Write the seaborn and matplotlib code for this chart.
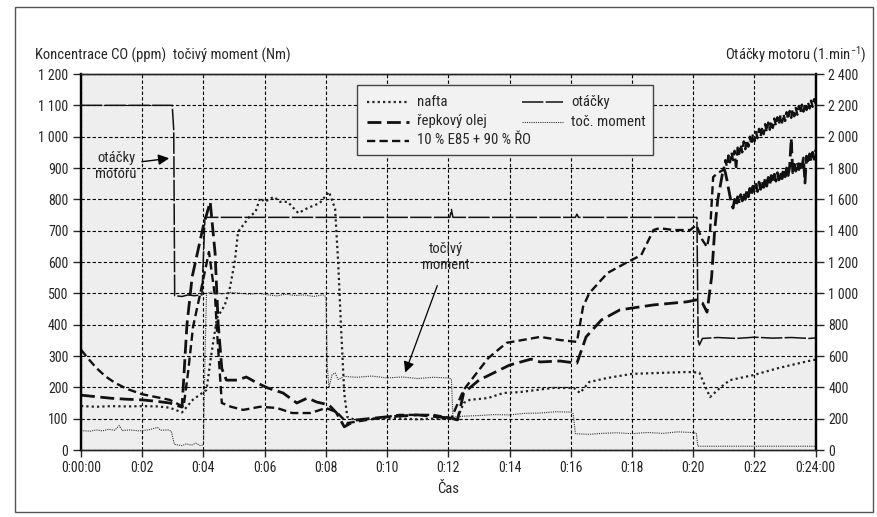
import matplotlib
matplotlib.use("Agg")
import matplotlib.pyplot as plt
from matplotlib import font_manager
from matplotlib.patches import Rectangle
from matplotlib.lines import Line2D
import seaborn as sns
import pandas as pd

# ---- data (time in minutes) ----
nafta_t = [0, 0.5, 1.0, 1.5, 2.0, 2.5, 2.9, 3.3, 3.65, 4.0, 4.1, 4.25, 4.44, 4.7, 4.87,
           5.03, 5.13, 5.5, 5.7, 5.85, 6.0, 6.3, 6.5, 6.75, 7.1, 7.4, 7.8, 8.1, 8.3, 8.4,
           8.5, 8.6, 8.7, 9.0, 9.5, 10.0, 10.5, 11.0, 11.5, 12.0, 12.3, 12.5, 12.7, 13.3,
           13.8, 14.35, 15.4, 16.1, 16.3, 16.6, 17.2, 18.0, 18.9, 19.8, 20.2, 20.4, 20.55,
           20.9, 21.2, 21.96, 22.8, 23.9, 24.0]
nafta_v = [140, 138, 140, 139, 140, 139, 135, 120, 160, 185, 192, 300, 421, 463, 520,
           606, 696, 744, 760, 804, 792, 808, 792, 792, 756, 772, 788, 824, 770, 600,
           380, 180, 105, 95, 100, 102, 100, 98, 100, 100, 102, 150, 160, 166,
           182, 185, 198, 198, 182, 217, 230, 243, 246, 249, 247, 201, 169,
           201, 223, 239, 262, 287, 288]

repka_t = [0, 0.5, 1.0, 1.5, 2.0, 2.5, 2.9, 3.2, 3.3, 3.46, 3.63, 3.99, 4.22, 4.38, 4.48,
           4.6, 4.75, 5.1, 5.4, 5.75, 6.1, 6.6, 7.05, 7.4, 7.7, 8.1, 8.35, 8.6, 9.0, 9.9,
           11.0, 12.05, 12.3, 12.5, 13.0, 14.0, 14.7, 15.0, 15.65, 16.2, 16.5, 17.0, 17.6,
           18.0, 18.7, 19.8, 20.1, 20.3, 20.45, 20.6, 20.7, 20.8, 20.95,
           21.00, 21.05, 21.10, 21.15, 21.20, 21.25, 21.30, 21.35, 21.40, 21.45,
           21.50, 21.55, 21.60, 21.65, 21.70, 21.75, 21.80, 21.85, 21.90, 21.95,
           22.00, 22.05, 22.10, 22.15, 22.20, 22.25, 22.30, 22.35, 22.40, 22.45,
           22.50, 22.55, 22.60, 22.65, 22.70, 22.75, 22.80, 22.85, 22.90, 22.95,
           23.00, 23.05, 23.10, 23.15, 23.20, 23.25, 23.30, 23.35, 23.40, 23.45,
           23.50, 23.55, 23.60, 23.65, 23.70, 23.75, 23.80, 23.85, 23.90, 23.95, 24.00]
repka_v = [175, 170, 165, 162, 160, 155, 150, 140, 137, 399, 552, 712, 792, 629, 405,
           260, 223, 223, 233, 214, 198, 182, 150, 166, 153, 144, 118, 74, 96, 105,
           112, 102, 96, 182, 223, 271, 290, 281, 284, 277, 361, 415, 447,
           453, 463, 473, 479, 469, 440, 552, 702, 798, 880,
           900, 885, 862, 835, 810, 785, 772, 800, 780, 808,
           788, 815, 795, 822, 800, 828, 808, 835, 812, 842,
           820, 848, 825, 855, 832, 860, 838, 866, 842, 870,
           848, 876, 852, 880, 858, 885, 862, 890, 866, 895,
           872, 900, 876, 905, 995, 885, 912, 890, 918, 895,
           925, 902, 932, 852, 938, 912, 945, 920, 950, 928, 958]

e85_t = [0, 0.25, 0.5, 0.8, 1.1, 1.5, 2.0, 2.5, 2.9, 3.2, 3.35, 3.5, 3.66, 3.99, 4.18,
         4.38, 4.44, 4.6, 4.9, 5.3, 5.85, 6.4, 6.9, 7.5, 8.0, 8.35, 8.7, 9.35, 10.4, 11.5,
         12.1, 12.5, 13.3, 13.9, 15.0, 15.65, 16.2, 16.4, 16.6, 17.2, 17.8, 18.3, 18.7,
         18.9, 19.35, 19.9, 20.1, 20.3, 20.45, 20.55, 20.65, 20.8,
         21.00, 21.05, 21.10, 21.15, 21.20, 21.25, 21.30, 21.35, 21.40, 21.45,
         21.50, 21.55, 21.60, 21.65, 21.70, 21.75, 21.80, 21.85, 21.90, 21.95,
         22.00, 22.05, 22.10, 22.15, 22.20, 22.25, 22.30, 22.35, 22.40, 22.45,
         22.50, 22.55, 22.60, 22.65, 22.70, 22.75, 22.80, 22.85, 22.90, 22.95,
         23.00, 23.05, 23.10, 23.15, 23.20, 23.25, 23.30, 23.35, 23.40, 23.45,
         23.50, 23.55, 23.60, 23.65, 23.70, 23.75, 23.80, 23.85, 23.90, 23.95, 24.00]
e85_v = [320, 290, 262, 235, 215, 195, 178, 168, 160, 145, 137, 250, 393, 543, 632,
         488, 383, 150, 138, 128, 138, 134, 118, 118, 134, 121, 86, 96, 112, 112,
         102, 192, 293, 342, 361, 351, 345, 457, 500, 565, 597, 622, 702,
         708, 702, 702, 718, 670, 648, 700, 871, 884,
         895, 925, 905, 940, 918, 950, 925, 955, 895, 965,
         945, 975, 950, 985, 960, 990, 968, 1000, 975, 1008,
         985, 1015, 995, 1025, 1000, 1030, 1008, 1040, 1015, 1045,
         1022, 1050, 1028, 1058, 1035, 1062, 1040, 1068, 1045, 1072,
         1050, 1078, 1055, 1082, 1060, 1088, 1065, 1092, 1070, 1098,
         1075, 1102, 1080, 1105, 1085, 1110, 1090, 1115, 1095, 1120, 1105]

otacky_t = [0, 2.98, 3.03, 3.06, 3.3, 3.5, 3.7, 3.95, 4.05, 12.05, 12.1, 12.15,
            16.15, 16.2, 16.25, 20.12, 20.16, 20.2, 20.3, 20.8, 21.4, 22.0, 22.6, 23.2,
            23.8, 24.0]
otacky_v = [2200, 2200, 2040, 985, 980, 990, 985, 990, 1485, 1485, 1535, 1485,
            1485, 1505, 1485, 1485, 700, 670, 712, 718, 712, 720, 714, 718,
            712, 716]

moment_t = [0, 0.3, 0.5, 0.7, 0.9, 1.1, 1.25, 1.35, 1.6, 1.9, 2.2, 2.5, 2.6, 2.85, 2.95,
            3.05, 3.3, 3.45, 3.6, 3.75, 3.9, 4.0, 4.05, 4.1, 4.3, 4.6, 4.9, 5.2, 5.5, 5.8,
            6.1, 6.4, 6.7, 7.0, 7.3, 7.6, 7.9, 8.0, 8.05, 8.1, 8.2, 8.3, 8.4, 8.6, 9.0,
            9.5, 10.0, 10.5, 11.0, 11.5, 12.0, 12.1, 12.15, 12.5, 13.0, 13.5, 14.0, 14.5,
            15.0, 15.5, 16.0, 16.08, 16.15, 16.6, 17.0, 17.5, 18.0, 18.5, 19.0, 19.5,
            19.9, 20.1, 20.15, 24.0]
moment_v = [62, 60, 64, 61, 66, 63, 78, 62, 64, 61, 64, 72, 63, 64, 60,
            18, 14, 20, 15, 22, 14, 16, 300, 500, 505, 498, 503, 500, 497, 500,
            495, 492, 497, 493, 495, 490, 495, 490, 260, 200, 240, 246, 225, 235, 232,
            236, 230, 233, 228, 232, 230, 226, 105, 108, 110, 113, 112, 117,
            118, 122, 121, 115, 52, 50, 53, 55, 52, 56, 53, 58,
            56, 54, 12, 12]

x_ticks = list(range(0, 25, 2))
x_labels = ["0:00:00", "0:02", "0:04", "0:06", "0:08", "0:10", "0:12", "0:14",
            "0:16", "0:18", "0:20", "0:22", "0:24:00"]
left_ticks = list(range(0, 1201, 100))
right_ticks = list(range(0, 2401, 200))

legend_labels = ["nafta", "řepkový olej", "10 % E85 + 90 % ŘO", "otáčky", "toč. moment"]


def fmt(v):
    return f"{v:,}".replace(",", " ")


# ---- style ----
sns.set_style("ticks")
names = {f.name for f in font_manager.fontManager.ttflist}
fam = "Liberation Sans"
for cand in ("Liberation Sans Narrow", "Roboto Condensed", "Liberation Sans"):
    if cand in names:
        fam = cand
        break
plt.rcParams["font.family"] = [fam, "DejaVu Sans"]
plt.rcParams["mathtext.fontset"] = "custom"
plt.rcParams["mathtext.rm"] = fam
plt.rcParams["mathtext.it"] = fam
plt.rcParams["font.size"] = 10

W, H = 878, 517
fig = plt.figure(figsize=(W / 100, H / 100), dpi=100)
fig.patch.set_facecolor("white")
AX_L, AX_R, AX_T, AX_B = 81, 815.7, 74, 450
ax = fig.add_axes([AX_L / W, 1 - AX_B / H, (AX_R - AX_L) / W, (AX_B - AX_T) / H])
ax.set_facecolor("#edeeed")
ax2 = ax.twinx()


def axf(px, py):
    """pixel position -> axes fraction"""
    return (px - AX_L) / (AX_R - AX_L), (AX_B - py) / (AX_B - AX_T)


styles = {
    "nafta": dict(color="#222222", lw=1.6, linestyle=(0, (1, 1.4))),
    "repka": dict(color="#111111", lw=2.0, linestyle=(0, (5, 2))),
    "e85": dict(color="#111111", lw=1.7, linestyle=(0, (3.5, 1.8))),
    "otacky": dict(color="#111111", lw=1.1, linestyle=(0, (14, 1.5))),
    "moment": dict(color="#333333", lw=0.8, linestyle=(0, (1, 1))),
}

series = [
    (ax, nafta_t, nafta_v, "nafta"),
    (ax, repka_t, repka_v, "repka"),
    (ax, e85_t, e85_v, "e85"),
    (ax, moment_t, moment_v, "moment"),
    (ax2, otacky_t, otacky_v, "otacky"),
]
for a, t, v, key in series:
    df = pd.DataFrame({"t": t, "v": v})
    sns.lineplot(data=df, x="t", y="v", ax=a, sort=False, estimator=None, **styles[key])

ax.set_xlim(0, 24)
ax.set_ylim(0, 1200)
ax2.set_ylim(0, 2400)
ax.set_xticks(x_ticks)
ax.set_xticklabels(x_labels)
ax.set_yticks(left_ticks)
ax.set_yticklabels([fmt(v) for v in left_ticks])
ax2.set_yticks(right_ticks)
ax2.set_yticklabels([fmt(v) for v in right_ticks])
ax.set_xlabel("Čas", fontsize=10.5, labelpad=5)
ax.set_ylabel("")
ax2.set_ylabel("")

ax.grid(True, color="black", linestyle=(0, (3, 2)), lw=0.8)
ax.set_axisbelow(True)
ax.tick_params(axis="y", direction="out", length=6, width=1, pad=3, labelsize=10)
ax.tick_params(axis="x", direction="out", length=5, width=1, pad=3, labelsize=10)
ax2.tick_params(axis="y", direction="out", length=6, width=1, pad=3, labelsize=10)
for a in (ax, ax2):
    for s in ("left", "right"):
        a.spines[s].set_linewidth(1.6)
        a.spines[s].set_color("black")
    a.spines["top"].set_linewidth(1.0)
    a.spines["bottom"].set_linewidth(1.0)
    a.spines["top"].set_visible(True)
    a.spines["right"].set_visible(True)

# axis titles
fig.text(35 / W, 1 - 55 / H, "Koncentrace CO (ppm)  točivý moment (Nm)",
         ha="left", va="center", fontsize=10.5)
fig.text(866 / W, 1 - 55 / H, "Otáčky motoru (1.min$^{-1}$)",
         ha="right", va="center", fontsize=10.5)

# annotations
ax.text(1.15, 906, "otáčky\nmotoru", ha="center", va="center", fontsize=10.5,
        linespacing=1.2)
ax.annotate("", xy=(2.97, 932), xytext=(1.9, 919),
            arrowprops=dict(arrowstyle="-|>", color="black", lw=1, mutation_scale=16))
ax.text(11.93, 616, "točivý\nmoment", ha="center", va="center", fontsize=10.5,
        linespacing=1.2)
ax.annotate("", xy=(10.56, 239), xytext=(11.67, 533),
            arrowprops=dict(arrowstyle="-|>", color="black", lw=0.9, mutation_scale=16))

# legend box with two columns; the third row sits under the first column only
x0, y0 = axf(357, 155)
x1, y1 = axf(653, 85)
ax2.add_patch(Rectangle((x0, y0), x1 - x0, y1 - y0, transform=ax2.transAxes,
                        facecolor="#f1f2f1", edgecolor="#444444", lw=1.0,
                        zorder=10, clip_on=False))
legend_keys = ["nafta", "repka", "e85", "otacky", "moment"]
legend_pos = [(367, 409, 417, 102), (367, 409, 417, 121.5), (367, 409, 417, 140.5),
              (522, 563, 571, 102), (522, 563, 571, 121.5)]
for key, lab, (hx0, hx1, tx, ty) in zip(legend_keys, legend_labels, legend_pos):
    a0, yy = axf(hx0, ty)
    a1, _ = axf(hx1, ty)
    ax2.add_line(Line2D([a0, a1], [yy, yy], transform=ax2.transAxes, zorder=11,
                        clip_on=False, **styles[key]))
    ttx, _ = axf(tx, ty)
    ax2.text(ttx, yy, lab, transform=ax2.transAxes, ha="left", va="center",
             fontsize=10.6, zorder=11)

# outer frame
fig.patches.append(Rectangle((15 / W, 5 / H), 858 / W, 505 / H,
                             transform=fig.transFigure, fill=False,
                             edgecolor="#555555", lw=1))

fig.savefig("out.png", dpi=100)
